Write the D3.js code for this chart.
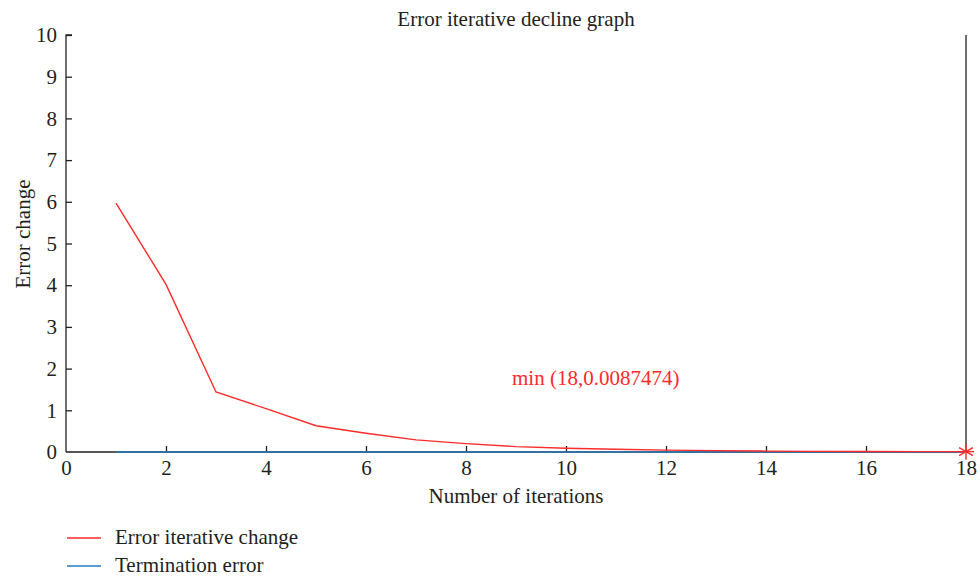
<!DOCTYPE html>
<html>
<head>
<meta charset="utf-8">
<script src="https://cdn.jsdelivr.net/npm/d3@7"></script>
<style>
  body { margin: 0; background: #fff; }
  svg text { font-family: "Liberation Serif", "DejaVu Serif", serif; fill: #231f20; }
</style>
</head>
<body>
<svg id="chart" width="980" height="578"></svg>
<script>
// Data
const iterations = [1, 2, 3, 4, 5, 6, 7, 8, 9, 10, 11, 12, 13, 14, 15, 16, 17, 18];
const errorChange = [5.97, 4.02, 1.44, 1.04, 0.63, 0.45, 0.29, 0.2, 0.13, 0.09, 0.065, 0.045, 0.032, 0.022, 0.016, 0.012, 0.01, 0.0087474];
const terminationError = 0.001;
const minPoint = { x: 18, y: 0.0087474 };
const xTicks = [0, 2, 4, 6, 8, 10, 12, 14, 16, 18];
const yTicks = [0, 1, 2, 3, 4, 5, 6, 7, 8, 9, 10];
const legendItems = [
  { label: "Error iterative change", color: "#ff2a2a" },
  { label: "Termination error", color: "#2a7ab8" }
];

const svg = d3.select("#chart");
const margin = { left: 66, right: 14, top: 35, bottom: 126 };
const width = 980, height = 578;
const fs = 21;

const x = d3.scaleLinear().domain([0, 18]).range([margin.left, width - margin.right]);
const y = d3.scaleLinear().domain([0, 10]).range([height - margin.bottom, margin.top]);

// Title
svg.append("text")
  .attr("x", x(9)).attr("y", 26)
  .attr("text-anchor", "middle")
  .attr("font-size", fs)
  .text("Error iterative decline graph");

// Axes with inward ticks
const xAxis = svg.append("g")
  .attr("transform", `translate(0,${y(0)})`)
  .call(d3.axisBottom(x).tickValues(xTicks).tickSize(-6).tickPadding(8));
const yAxis = svg.append("g")
  .attr("transform", `translate(${x(0)},0)`)
  .call(d3.axisLeft(y).tickValues(yTicks).tickSize(-6).tickPadding(9));

[xAxis, yAxis].forEach(a => {
  a.selectAll("path").attr("stroke", "#231f20").attr("stroke-width", 1.3);
  a.selectAll("line").attr("stroke", "#231f20").attr("stroke-width", 1.3);
  a.selectAll("text").attr("font-size", fs).attr("fill", "#231f20")
    .style("font-family", "'Liberation Serif', serif");
});
yAxis.select(".domain").attr("d", `M0,${y(0)}V${y(10)}H6`);
xAxis.select(".domain").attr("d", `M${x(0)},0H${x(18)}`);
xAxis.selectAll(".tick").filter(d => d === 0 || d === 18).select("line").remove();
yAxis.selectAll(".tick").filter(d => d === 0).select("line").remove();

// Axis labels
svg.append("text")
  .attr("x", x(9)).attr("y", 503)
  .attr("text-anchor", "middle")
  .attr("font-size", fs)
  .text("Number of iterations");
svg.append("text")
  .attr("transform", `translate(30,234) rotate(-90)`)
  .attr("text-anchor", "middle")
  .attr("font-size", fs)
  .text("Error change");

// Vertical line at the minimum
svg.append("line")
  .attr("x1", x(minPoint.x)).attr("x2", x(minPoint.x))
  .attr("y1", y(10)).attr("y2", y(0))
  .attr("stroke", "#231f20").attr("stroke-width", 1.3);

// Termination error line
svg.append("path")
  .datum(iterations)
  .attr("fill", "none")
  .attr("stroke", legendItems[1].color)
  .attr("stroke-width", 1.6)
  .attr("d", d3.line().x(d => x(d)).y(() => y(terminationError)));

// Error iterative change line
svg.append("path")
  .datum(iterations.map((it, i) => ({ it, v: errorChange[i] })))
  .attr("fill", "none")
  .attr("stroke", legendItems[0].color)
  .attr("stroke-width", 1.4)
  .attr("d", d3.line().x(d => x(d.it)).y(d => y(d.v)));

// Star marker at minimum
const mx = x(minPoint.x), my = y(minPoint.y), r = 8;
const star = svg.append("g").attr("stroke", legendItems[0].color).attr("stroke-width", 1.4);
[0, 60, 120].forEach(a => {
  const rad = a * Math.PI / 180;
  star.append("line")
    .attr("x1", mx - r * Math.sin(rad)).attr("y1", my - r * Math.cos(rad))
    .attr("x2", mx + r * Math.sin(rad)).attr("y2", my + r * Math.cos(rad));
});
star.append("line").attr("x1", mx - r).attr("x2", mx + r).attr("y1", my).attr("y2", my);

// Annotation
svg.append("text")
  .attr("x", x(8.92)).attr("y", 385)
  .attr("font-size", fs)
  .style("fill", legendItems[0].color)
  .text(`min (${minPoint.x},${minPoint.y})`);

// Legend
const legend = svg.append("g");
legendItems.forEach((d, i) => {
  const ly = 538 + i * 28;
  legend.append("line")
    .attr("x1", 67).attr("x2", 101).attr("y1", ly).attr("y2", ly)
    .attr("stroke", d.color).attr("stroke-width", 1.6);
  legend.append("text")
    .attr("x", 115).attr("y", ly + 6)
    .attr("font-size", fs)
    .text(d.label);
});
</script>
</body>
</html>
